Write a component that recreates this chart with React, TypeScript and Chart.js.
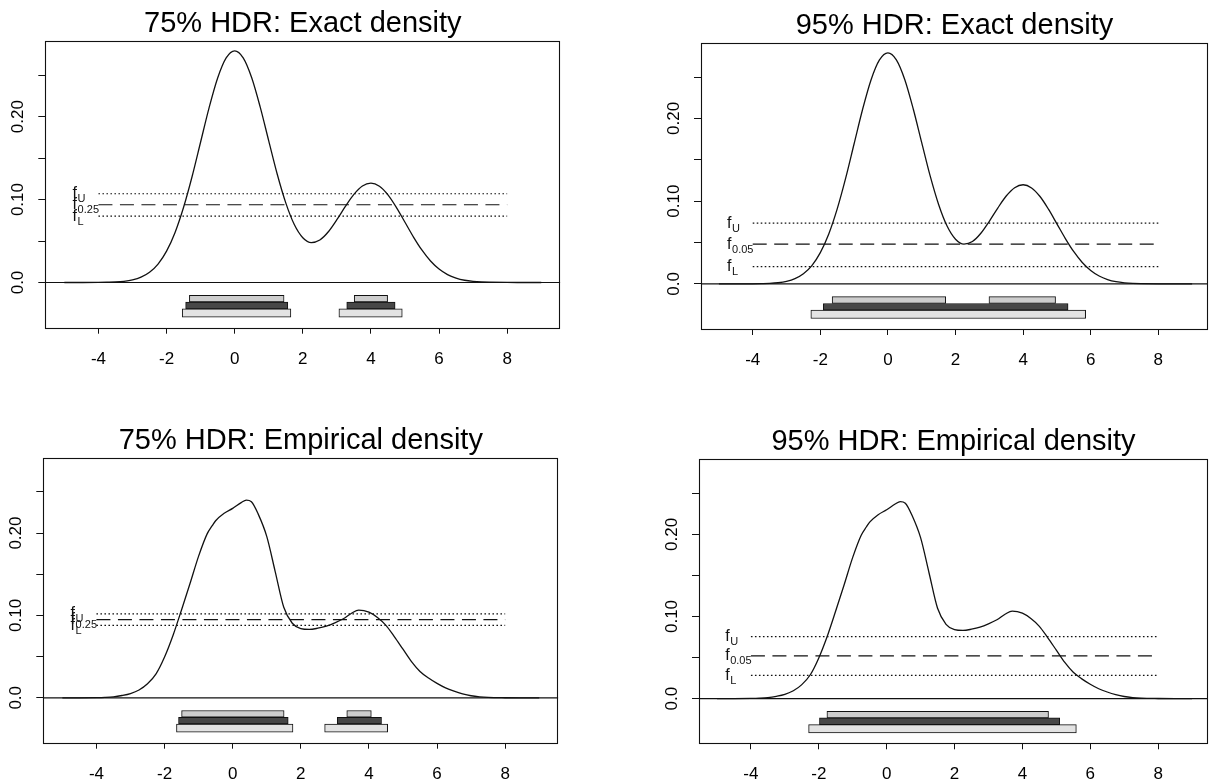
import React, { useEffect, useRef } from "react";
import { Chart, registerables } from "chart.js";

Chart.register(...registerables);

const FONT = "'Liberation Sans', Arial, Helvetica, sans-serif";

// ---------- data ----------
const titles = [
  "75% HDR: Exact density",
  "95% HDR: Exact density",
  "75% HDR: Empirical density",
  "95% HDR: Empirical density",
];

const xTickValues = [-4, -2, 0, 2, 4, 6, 8];
const yTickValues = [0, 0.05, 0.1, 0.15, 0.2, 0.25];
const yLabelValues = [0, 0.1, 0.2];
const yLabelTexts = ["0.0", "0.10", "0.20"];

// exact density
const exactX = [
  -5, -4.5, -4, -3.75, -3.5, -3.25, -3, -2.75, -2.5, -2.25, -2, -1.75, -1.5, -1.25, -1, -0.75,
  -0.5, -0.25, 0, 0.25, 0.5, 0.75, 1, 1.25, 1.5, 1.75, 2, 2.25, 2.5, 2.75, 3, 3.25, 3.5, 3.75,
  4, 4.25, 4.5, 4.75, 5, 5.25, 5.5, 5.75, 6, 6.25, 6.5, 6.75, 7, 7.25, 7.5, 8, 8.5, 9,
];
const exactY = [
  0, 0, 0.0001, 0.0003, 0.0006, 0.0014, 0.0031, 0.0064, 0.0123, 0.0222, 0.0378, 0.0604, 0.0907,
  0.1278, 0.1694, 0.2108, 0.2465, 0.2707, 0.2793, 0.2708, 0.2468, 0.2114, 0.1707, 0.1305, 0.096,
  0.0699, 0.054, 0.0481, 0.0512, 0.0612, 0.0757, 0.0917, 0.1062, 0.1163, 0.1198, 0.116, 0.1056,
  0.0903, 0.0726, 0.0548, 0.0389, 0.0259, 0.0162, 0.0095, 0.0053, 0.0027, 0.0013, 0.0006, 0.0003,
  0.00004, 0, 0,
];

// empirical density
const empX = [
  -5, -4.5, -4, -3.75, -3.5, -3.25, -3, -2.75, -2.5, -2.25, -2, -1.75, -1.5, -1.25, -1, -0.75,
  -0.6, -0.5, -0.25, 0, 0.25, 0.4, 0.55, 0.75, 1, 1.25, 1.5, 1.75, 2, 2.25, 2.5, 2.75, 3, 3.25,
  3.5, 3.7, 4, 4.25, 4.5, 4.75, 5, 5.25, 5.5, 5.75, 6, 6.25, 6.5, 6.75, 7, 7.25, 7.5, 8, 8.5, 9,
];
const empY = [
  0, 0, 0.0002, 0.0005, 0.0012, 0.0028, 0.0052, 0.0095, 0.017, 0.029, 0.0495, 0.076, 0.107,
  0.139, 0.172, 0.199, 0.209, 0.215, 0.224, 0.23, 0.237, 0.24, 0.238, 0.223, 0.196, 0.153, 0.11,
  0.0905, 0.084, 0.083, 0.0845, 0.087, 0.091, 0.096, 0.103, 0.1065, 0.104, 0.0975, 0.088, 0.074,
  0.059, 0.044, 0.032, 0.024, 0.0175, 0.012, 0.008, 0.0048, 0.0025, 0.0012, 0.0005, 0.0001, 0, 0,
];

// thresholds: f_U, f_alpha, f_L
const exact75Levels = [0.107, 0.0937, 0.08];
const exact95Levels = [0.0735, 0.048, 0.021];
const emp75Levels = [0.102, 0.0948, 0.088];
const emp95Levels = [0.0755, 0.052, 0.0283];
const subs75 = ["U", "0.25", "L"];
const subs95 = ["U", "0.05", "L"];
const levelLineStart = -4;
const levelLineEnd = 8;
const levelLabelX = -4.76;

// HDR intervals (upper level, HDR level, lower level)
const exact75Upper = [[-1.33, 1.45], [3.51, 4.49]];
const exact75Hdr = [[-1.44, 1.56], [3.29, 4.71]];
const exact75Lower = [[-1.54, 1.65], [3.06, 4.92]];
const exact95Upper = [[-1.65, 1.71], [2.99, 4.96]];
const exact95Hdr = [[-1.91, 5.33]];
const exact95Lower = [[-2.28, 5.85]];
const emp75Upper = [[-1.5, 1.51], [3.35, 4.07]];
const emp75Hdr = [[-1.59, 1.63], [3.07, 4.37]];
const emp75Lower = [[-1.65, 1.77], [2.7, 4.55]];
const emp95Upper = [[-1.76, 4.77]];
const emp95Hdr = [[-1.98, 5.1]];
const emp95Lower = [[-2.3, 5.59]];

const barLayerY = [-0.0195, -0.0277, -0.0368];

const Y_MIN = -0.0545;
const Y_MAX = 0.2915;

// ---------- layout / style ----------
const barThick = [6.7, 6.7, 8.3];
const barFill = ["#cdcdcd", "#474747", "#e3e3e3"];

type Panel = {
  left: number;
  top: number;
  width: number;
  height: number;
  l: number;
  r: number;
  t: number;
  b: number;
  xMin: number;
  xMax: number;
  title: string;
  titlePad: [number, number];
  cx: number[];
  cy: number[];
  levels: number[];
  subs: string[];
  layers: number[][][];
};

const TITLE_SIZE = 29;

const panels: Panel[] = [
  {
    left: 0, top: 0, width: 604, height: 391, l: 45.3, r: 560.3, t: 40.7, b: 327.7,
    xMin: -5.56, xMax: 9.56, title: titles[0], titlePad: [9.7, 2.0],
    cx: exactX, cy: exactY, levels: exact75Levels, subs: subs75,
    layers: [exact75Upper, exact75Hdr, exact75Lower],
  },
  {
    left: 604, top: 0, width: 605, height: 391, l: 97, r: 604, t: 42.7, b: 329,
    xMin: -5.53, xMax: 9.47, title: titles[1], titlePad: [11.1, 2.6],
    cx: exactX, cy: exactY, levels: exact95Levels, subs: subs95,
    layers: [exact95Upper, exact95Hdr, exact95Lower],
  },
  {
    left: 0, top: 391, width: 604, height: 391, l: 43.3, r: 558.3, t: 66.7, b: 351.7,
    xMin: -5.56, xMax: 9.56, title: titles[2], titlePad: [35.7, 2.0],
    cx: empX, cy: empY, levels: emp75Levels, subs: subs75,
    layers: [emp75Upper, emp75Hdr, emp75Lower],
  },
  {
    left: 604, top: 391, width: 605, height: 391, l: 95, r: 604, t: 68.3, b: 352.3,
    xMin: -5.53, xMax: 9.47, title: titles[3], titlePad: [36.9, 2.4],
    cx: empX, cy: empY, levels: emp95Levels, subs: subs95,
    layers: [emp95Upper, emp95Hdr, emp95Lower],
  },
];

function buildConfig(p: Panel): any {
  const datasets: any[] = [];
  datasets.push({
    type: "line",
    data: p.cx.map((x, i) => ({ x, y: p.cy[i] })),
    borderColor: "#111",
    borderWidth: 1.3,
    pointRadius: 0,
    cubicInterpolationMode: "monotone",
    fill: false,
  });
  datasets.push({
    type: "line",
    data: [
      { x: p.xMin, y: 0 },
      { x: p.xMax, y: 0 },
    ],
    borderColor: "#111",
    borderWidth: 1.2,
    pointRadius: 0,
    fill: false,
  });
  p.levels.forEach((lv, i) => {
    datasets.push({
      type: "line",
      data: [
        { x: levelLineStart, y: lv },
        { x: levelLineEnd, y: lv },
      ],
      borderColor: "#111",
      borderWidth: 1.2,
      borderDash: i === 1 ? [14, 7.5] : [1.6, 2.4],
      pointRadius: 0,
      fill: false,
    });
  });
  p.layers.forEach((ivs, j) => {
    datasets.push({
      type: "bar",
      indexAxis: "y",
      grouped: false,
      barThickness: barThick[j],
      data: ivs.map((iv) => ({ x: iv, y: barLayerY[j] })),
      backgroundColor: barFill[j],
      borderColor: "#111",
      borderWidth: 1,
      borderSkipped: false,
    });
  });

  const boxPlugin = {
    id: "box" + p.left + "_" + p.top,
    afterDatasetsDraw(chart: any) {
      const { ctx, chartArea, scales } = chart;
      ctx.save();
      ctx.strokeStyle = "#111";
      ctx.lineWidth = 1.1;
      const L = Math.round(chartArea.left) + 0.5;
      const T = Math.round(chartArea.top) + 0.5;
      const R = Math.round(chartArea.right) - 0.5;
      const B = Math.round(chartArea.bottom) + 0.5;
      ctx.strokeRect(L, T, R - L, B - T);
      // f labels
      ctx.fillStyle = "#111";
      ctx.textAlign = "left";
      ctx.textBaseline = "alphabetic";
      p.levels.forEach((lv, i) => {
        const px = scales.x.getPixelForValue(levelLabelX);
        const py = scales.y.getPixelForValue(lv);
        ctx.font = `16px ${FONT}`;
        ctx.fillText("f", px, py + 4.5);
        const w = ctx.measureText("f").width;
        ctx.font = `11px ${FONT}`;
        ctx.fillText(p.subs[i], px + w + 0.6, py + 8.5);
      });
      ctx.restore();
    },
  };

  return {
    type: "line",
    data: { datasets },
    options: {
      animation: false,
      responsive: false,
      maintainAspectRatio: false,
      devicePixelRatio: 1,
      events: [],
      layout: { padding: { left: 0, right: p.width - p.r, top: 0, bottom: 0 } },
      plugins: {
        legend: { display: false },
        tooltip: { enabled: false },
        title: {
          display: true,
          fullSize: false,
          text: p.title,
          color: "#000",
          font: { family: FONT, size: TITLE_SIZE, weight: "normal", lineHeight: 1 },
          padding: { top: p.titlePad[0], bottom: p.titlePad[1] },
        },
      },
      scales: {
        x: {
          type: "linear",
          offset: false,
          min: p.xMin,
          max: p.xMax,
          afterBuildTicks: (ax: any) => {
            ax.ticks = xTickValues.map((v) => ({ value: v }));
          },
          afterFit: (ax: any) => {
            ax.height = p.height - p.b;
          },
          grid: { offset: false, drawOnChartArea: false, drawTicks: true, tickLength: 6, color: "#111", lineWidth: 1 },
          border: { display: false },
          ticks: {
            padding: 15.2,
            color: "#000",
            font: { family: FONT, size: 17 },
            maxRotation: 0,
            autoSkip: false,
            callback: (v: any) => String(v),
          },
        },
        y: {
          type: "linear",
          offset: false,
          min: Y_MIN,
          max: Y_MAX,
          afterBuildTicks: (ax: any) => {
            ax.ticks = yTickValues.map((v) => ({ value: v }));
          },
          afterFit: (ax: any) => {
            ax.width = p.l;
          },
          grid: { offset: false, drawOnChartArea: false, drawTicks: true, tickLength: 7, color: "#111", lineWidth: 1 },
          border: { display: false },
          ticks: {
            minRotation: 90,
            maxRotation: 90,
            crossAlign: "center",
            padding: 3.45,
            autoSkip: false,
            color: "#000",
            font: { family: FONT, size: 17 },
            callback: (v: any) => {
              const k = yLabelValues.findIndex((u) => Math.abs(u - Number(v)) < 1e-9);
              return k >= 0 ? yLabelTexts[k] : "";
            },
          },
        },
      },
    },
    plugins: [boxPlugin],
  };
}

function PanelChart({ p }: { p: Panel }) {
  const ref = useRef<HTMLCanvasElement | null>(null);
  useEffect(() => {
    if (!ref.current) return;
    const chart = new Chart(ref.current, buildConfig(p));
    return () => chart.destroy();
  }, [p]);
  return (
    <canvas
      ref={ref}
      width={p.width}
      height={p.height}
      style={{ position: "absolute", left: p.left, top: p.top, width: p.width, height: p.height }}
    />
  );
}

export default function App() {
  return (
    <div
      style={{
        position: "fixed",
        left: 0,
        top: 0,
        width: 1209,
        height: 782,
        background: "#fff",
        overflow: "hidden",
      }}
    >
      {panels.map((p, i) => (
        <PanelChart key={i} p={p} />
      ))}
    </div>
  );
}
